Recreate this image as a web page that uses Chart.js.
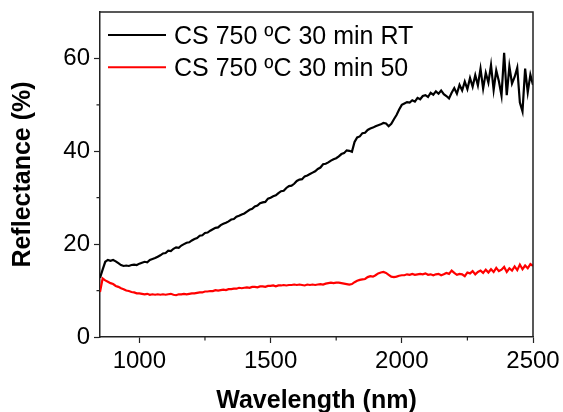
<!DOCTYPE html>
<html>
<head>
<meta charset="utf-8">
<script src="https://cdn.jsdelivr.net/npm/chart.js@4"></script>
<style>
  html, body { margin: 0; padding: 0; background: #fff; }
  #wrap { width: 563px; height: 412px; }
</style>
</head>
<body>
<div id="wrap"><canvas id="grafico" width="563" height="412"></canvas></div>
<script>
const wavelengths = [
  850, 860, 870, 880, 890, 900, 910, 920, 930, 940,
  950, 960, 970, 980, 990, 1000, 1010, 1020, 1030, 1040,
  1050, 1060, 1070, 1080, 1090, 1100, 1110, 1120, 1130, 1140,
  1150, 1160, 1170, 1180, 1190, 1200, 1210, 1220, 1230, 1240,
  1250, 1260, 1270, 1280, 1290, 1300, 1310, 1320, 1330, 1340,
  1350, 1360, 1370, 1380, 1390, 1400, 1410, 1420, 1430, 1440,
  1450, 1460, 1470, 1480, 1490, 1500, 1510, 1520, 1530, 1540,
  1550, 1560, 1570, 1580, 1590, 1600, 1610, 1620, 1630, 1640,
  1650, 1660, 1670, 1680, 1690, 1700, 1710, 1720, 1730, 1740,
  1750, 1760, 1770, 1780, 1790, 1800, 1810, 1820, 1830, 1840,
  1850, 1860, 1870, 1880, 1890, 1900, 1910, 1920, 1930, 1940,
  1950, 1960, 1970, 1980, 1990, 2000, 2010, 2020, 2030, 2040,
  2050, 2060, 2070, 2080, 2090, 2100, 2110, 2120, 2130, 2140,
  2150, 2160, 2170, 2180, 2190, 2200, 2210, 2220, 2230, 2240,
  2250, 2260, 2270, 2280, 2290, 2300, 2310, 2320, 2330, 2340,
  2350, 2360, 2370, 2380, 2390, 2400, 2410, 2420, 2430, 2440,
  2450, 2460, 2470, 2480, 2490, 2500
];

const reflRT = [
  12.7, 14.5, 16.2, 16.6, 16.4, 16.6, 16.3, 15.9, 15.5, 15.3,
  15.4, 15.3, 15.5, 15.6, 15.5, 15.8, 16.0, 16.2, 16.1, 16.6,
  16.8, 17.0, 17.3, 17.6, 18.0, 18.1, 18.6, 18.5, 19.0, 19.3,
  19.2, 19.7, 20.0, 20.3, 20.4, 20.8, 21.1, 21.3, 21.8, 21.9,
  22.4, 22.5, 22.9, 23.2, 23.5, 23.6, 24.1, 24.4, 24.6, 24.9,
  25.3, 25.4, 25.9, 26.1, 26.4, 26.6, 27.0, 27.4, 27.6, 28.1,
  28.3, 28.8, 29.0, 29.1, 29.8, 30.0, 30.3, 30.5, 31.0, 31.4,
  31.5, 32.1, 32.5, 32.6, 33.0, 33.6, 33.9, 34.0, 34.6, 34.8,
  35.1, 35.4, 35.7, 36.2, 36.5, 37.2, 37.3, 37.6, 38.0, 38.3,
  38.5, 38.9, 39.4, 39.6, 40.2, 40.1, 39.9, 42.0, 43.0, 43.2,
  43.9, 44.0, 44.6, 44.9, 45.1, 45.4, 45.6, 45.8, 46.1, 46.0,
  45.4, 45.9, 46.9, 47.8, 49.0, 50.0, 50.3, 50.6, 50.5, 51.0,
  50.7, 51.5, 51.2, 51.9, 52.1, 51.7, 52.6, 52.2, 52.9, 52.4,
  53.1, 52.3, 51.9, 51.4, 52.6, 53.6, 52.4, 54.3, 53.1, 55.0,
  53.4, 55.8, 53.9, 56.4, 54.2, 57.8, 53.5, 56.9, 54.8, 58.6,
  53.2, 57.4, 55.1, 52.0, 61.2, 52.1, 58.3, 54.6, 56.0, 58.0,
  50.5, 48.6, 57.8, 52.7, 56.5, 54.3
];

const refl50 = [
  9.7, 12.6, 12.2, 11.9, 11.6, 11.4, 11.0, 10.8, 10.5, 10.3,
  10.0, 9.9, 9.7, 9.6, 9.4, 9.4, 9.3, 9.2, 9.3, 9.1,
  9.2, 9.1, 9.2, 9.1, 9.2, 9.1, 9.2, 9.3, 9.1, 9.0,
  9.2, 9.2, 9.3, 9.2, 9.3, 9.4, 9.4, 9.5, 9.6, 9.6,
  9.8, 9.8, 9.9, 9.9, 10.1, 10.0, 10.1, 10.2, 10.1, 10.3,
  10.3, 10.4, 10.4, 10.6, 10.5, 10.6, 10.7, 10.6, 10.8, 10.8,
  10.7, 10.9, 10.9, 10.8, 11.0, 11.0, 11.1, 10.9, 11.1, 11.1,
  11.2, 11.1, 11.2, 11.2, 11.3, 11.2, 11.3, 11.2, 11.1, 11.3,
  11.2, 11.3, 11.2, 11.3, 11.4, 11.3, 11.5, 11.6, 11.7, 11.6,
  11.7, 11.7, 11.6, 11.5, 11.4, 11.3, 11.4, 11.8, 12.1, 12.3,
  12.4, 12.5, 12.9, 13.1, 13.0, 13.3, 13.7, 13.9, 14.0, 13.8,
  13.4, 13.0, 12.9, 13.0, 13.2, 13.3, 13.3, 13.5, 13.4, 13.6,
  13.4, 13.5, 13.6, 13.5, 13.7, 13.4, 13.5, 13.3, 13.5, 13.6,
  13.3, 13.5, 13.8, 13.6, 14.3, 13.8, 13.4, 13.6, 13.5, 13.1,
  13.9, 13.7, 14.2, 13.5, 14.0, 14.3, 13.8, 14.5, 13.9, 14.6,
  14.0, 14.9, 14.2, 14.5, 15.1, 14.0, 14.8, 14.3, 15.2, 14.4,
  15.6, 14.6, 15.4, 14.8, 15.7, 15.3
];

const seriesLabels = ["CS 750 \u00baC 30 min RT", "CS 750 \u00baC 30 min 50"];
const xTicks = [1000, 1500, 2000, 2500];
const xMinorTicks = [1250, 1750, 2250];
const yTicks = [0, 20, 40, 60];
const yMinorTicks = [10, 30, 50];

const AXIS_COLOR = "#222";
const FONT = "'Liberation Sans', Arial, sans-serif";

// box on top/right, minor ticks and the inside legend
const extrasPlugin = {
  id: "extras",
  afterDraw(chart) {
    const ctx = chart.ctx;
    const a = chart.chartArea;
    const xs = chart.scales.x;
    const ys = chart.scales.y;
    ctx.save();
    ctx.strokeStyle = AXIS_COLOR;
    ctx.lineWidth = 1.5;
    ctx.beginPath();
    ctx.moveTo(a.left, a.top);
    ctx.lineTo(a.right, a.top);
    ctx.lineTo(a.right, a.bottom);
    ctx.stroke();

    ctx.lineWidth = 1.2;
    ctx.beginPath();
    for (const v of xMinorTicks) {
      const px = xs.getPixelForValue(v);
      ctx.moveTo(px, a.bottom);
      ctx.lineTo(px, a.bottom + 3.5);
    }
    for (const v of yMinorTicks) {
      const py = ys.getPixelForValue(v);
      ctx.moveTo(a.left, py);
      ctx.lineTo(a.left - 3.5, py);
    }
    ctx.stroke();

    ctx.font = "25px " + FONT;
    ctx.textBaseline = "alphabetic";
    ctx.fillStyle = "#000";
    chart.data.datasets.forEach((ds, i) => {
      const y = a.top + 23 + i * 32.3;
      ctx.strokeStyle = ds.borderColor;
      ctx.lineWidth = 2;
      ctx.beginPath();
      ctx.moveTo(a.left + 8, y);
      ctx.lineTo(a.left + 66, y);
      ctx.stroke();
      ctx.fillText(ds.label, a.left + 74, y + 8.5);
    });
    ctx.restore();
  }
};

const ctx = document.getElementById("grafico").getContext("2d");

new Chart(ctx, {
  type: "line",
  data: {
    datasets: [
      {
        label: seriesLabels[0],
        data: wavelengths.map((w, i) => ({ x: w, y: reflRT[i] })),
        borderColor: "#000000",
        borderWidth: 2.2,
        pointRadius: 0,
        fill: false,
        tension: 0
      },
      {
        label: seriesLabels[1],
        data: wavelengths.map((w, i) => ({ x: w, y: refl50[i] })),
        borderColor: "#ff0000",
        borderWidth: 2.2,
        pointRadius: 0,
        fill: false,
        tension: 0
      }
    ]
  },
  options: {
    responsive: false,
    animation: false,
    layout: { padding: { top: 12, right: 30, bottom: 0, left: 0 } },
    plugins: {
      legend: { display: false },
      tooltip: { enabled: false }
    },
    scales: {
      x: {
        type: "linear",
        min: 850,
        max: 2500,
        afterBuildTicks: s => { s.ticks = xTicks.map(v => ({ value: v })); },
        afterFit: s => { s.height = 75; s.paddingLeft = 0; s.paddingRight = 0; },
        border: { display: true, color: AXIS_COLOR, width: 1.5 },
        grid: { drawOnChartArea: false, drawTicks: true, tickLength: 6, color: AXIS_COLOR, tickWidth: 1.2 },
        ticks: {
          color: "#000",
          padding: 4,
          maxRotation: 0,
          callback: v => String(v),
          font: { family: FONT, size: 24 }
        },
        title: {
          display: true,
          text: "Wavelength (nm)",
          color: "#000",
          padding: { top: 0, bottom: -4 },
          font: { family: FONT, size: 25, weight: "bold" }
        }
      },
      y: {
        min: 0,
        max: 70,
        afterBuildTicks: s => { s.ticks = yTicks.map(v => ({ value: v })); },
        afterFit: s => { s.width = 100; s.paddingTop = 0; s.paddingBottom = 0; },
        border: { display: true, color: AXIS_COLOR, width: 1.5 },
        grid: { drawOnChartArea: false, drawTicks: true, tickLength: 6, color: AXIS_COLOR, tickWidth: 1.2 },
        ticks: {
          color: "#000",
          padding: 4,
          callback: v => String(v),
          font: { family: FONT, size: 24 }
        },
        title: {
          display: true,
          text: "Reflectance (%)",
          color: "#000",
          padding: { top: 8, bottom: 0 },
          font: { family: FONT, size: 25, weight: "bold" }
        }
      }
    }
  },
  plugins: [extrasPlugin]
});
</script>
</body>
</html>
